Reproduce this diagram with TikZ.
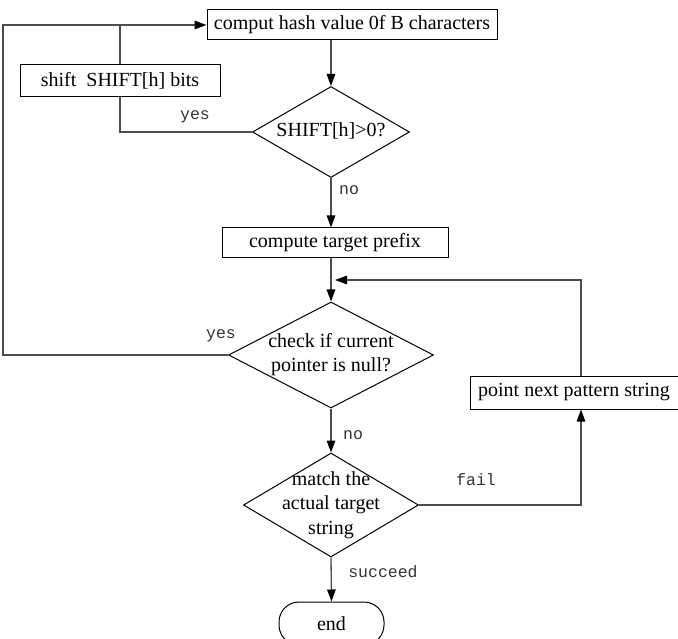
\documentclass[tikz,border=0pt]{standalone}
\usepackage{fontspec}
\setmainfont{Liberation Serif}
\newfontfamily\flowLabelFont{Liberation Mono}
\usetikzlibrary{shapes.geometric,arrows.meta}
\newcommand{\flowLines}[1]{\raisebox{-0.25em}[0pt][0pt]{\makebox[0pt][c]{\begin{tabular}{@{}c@{}}#1\end{tabular}}}}

\begin{document}
\begin{tikzpicture}[x=1pt,y=-1pt,
  font=\fontsize{20}{24.5}\selectfont,
  proc/.style={draw, line width=1pt, rectangle, inner sep=0pt, minimum height=30pt},
  decide/.style={draw, line width=1pt, diamond, inner sep=0pt},
  flow/.style={draw=black!70, line width=1.3pt},
  arr/.style={flow, -{Triangle[length=12pt,width=8.5pt,color=black]}},
  lbl/.style={font=\flowLabelFont\fontsize{16.5}{18}\selectfont, text=black!80, inner sep=0pt}]
\useasboundingbox (0,0) rectangle (678,639);
\node[proc, minimum width=290pt] (hash) at (352,25) {comput hash value 0f B characters};
\node[proc, minimum width=200pt, minimum height=32pt] (shift) at (120,81) {shift\ \ SHIFT[h] bits};
\node[decide, minimum width=157pt, minimum height=91pt] (shiftok) at (331,132) {\flowLines{SHIFT[h]>0?}};
\node[proc, minimum width=226pt] (prefix) at (335,243) {compute target prefix};
\node[decide, minimum width=205pt, minimum height=106pt] (check) at (331,355) {\flowLines{check if current\\pointer is null?}};
\node[proc, minimum width=208pt, minimum height=33pt] (next) at (574,392.5) {point next pattern string};
\node[decide, minimum width=175pt, minimum height=104pt] (match) at (331,505) {\flowLines{match the\\actual target\\string}};
\node[draw, line width=1pt, rounded corners=20pt, minimum width=105pt, minimum height=43pt, inner sep=0pt] (stop) at (331.5,623.5) {end};
\coordinate (merge) at (335,280);
% connectors
\draw[arr] (hash.south -| shiftok.north) -- (shiftok.north);
\draw[flow] (shiftok.west) -| (shift.south);
\draw[flow] (shift.north) -- (shift.north |- hash.west);
\draw[arr] (shiftok.south) -- (prefix.north -| shiftok.south);
\draw[arr] (prefix.south -| check.north) -- (check.north);
\draw[arr] (check.west) -- ++(-225,0) |- (hash.west);
\draw[arr] (check.south) -- (match.north);
\draw[arr] (match.east) -| ([xshift=7pt]next.south);
\draw[arr] ([xshift=7pt]next.north) |- (merge);
\draw[arr] (match.south) -- (stop.north);
% labels
\node[lbl] (yesA) at (195,117) {yes};
\node[lbl] (noA) at (349,190) {no};
\node[lbl] (yesB) at (221,336) {yes};
\node[lbl] (noB) at (353,435) {no};
\node[lbl] (failL) at (476,480) {fail};
\node[lbl] (okL) at (383,572) {succeed};
\end{tikzpicture}
\end{document}
